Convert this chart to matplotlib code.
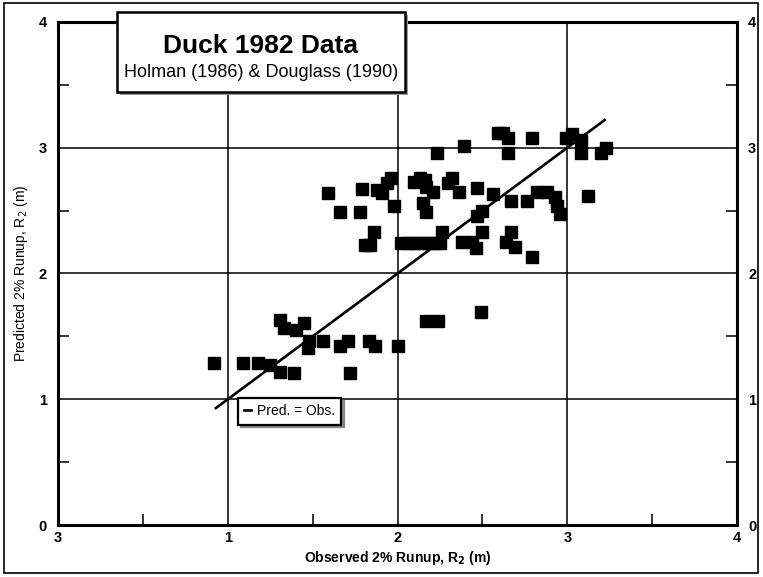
import matplotlib
matplotlib.use("Agg")
import matplotlib.pyplot as plt
import numpy as np
from matplotlib.patches import Rectangle

plt.rcParams['font.family'] = ['Liberation Sans', 'DejaVu Sans']

# observed vs predicted 2% runup (m)
obs = [0.92, 1.09, 1.18, 1.25, 1.31, 1.31, 1.33, 1.40, 1.45, 1.39, 1.47, 1.48,
       1.56, 1.66, 1.71, 1.72, 1.83, 1.87, 2.00, 2.17, 2.24, 2.49,
       1.59, 1.66, 1.78, 1.79, 1.88, 1.91, 1.96, 1.94, 1.98, 1.86, 1.81, 1.84,
       2.02, 2.06, 2.10, 2.14, 2.18, 2.22, 2.25,
       2.10, 2.13, 2.16, 2.17, 2.21, 2.15, 2.17, 2.32, 2.30, 2.36, 2.47, 2.56,
       2.67, 2.76, 2.82, 2.88, 2.93, 2.94, 2.96, 3.12, 2.50, 2.47, 2.26, 2.38,
       2.44, 2.46, 2.50, 2.67, 2.64, 2.69, 2.79,
       2.59, 2.62, 2.65, 2.79, 2.65, 2.39, 2.23, 2.99, 3.03, 3.08, 3.08, 3.20,
       3.23]
pred = [1.29, 1.29, 1.29, 1.27, 1.22, 1.63, 1.57, 1.55, 1.61, 1.21, 1.41, 1.46,
        1.46, 1.42, 1.46, 1.21, 1.46, 1.42, 1.42, 1.62, 1.62, 1.69,
        2.64, 2.49, 2.49, 2.67, 2.66, 2.64, 2.76, 2.72, 2.54, 2.33, 2.23, 2.23,
        2.24, 2.24, 2.24, 2.24, 2.24, 2.24, 2.24,
        2.73, 2.76, 2.74, 2.69, 2.65, 2.56, 2.49, 2.76, 2.72, 2.65, 2.68, 2.63,
        2.58, 2.58, 2.65, 2.65, 2.61, 2.54, 2.47, 2.62, 2.50, 2.46, 2.33, 2.25,
        2.25, 2.20, 2.33, 2.33, 2.25, 2.21, 2.13,
        3.12, 3.12, 3.08, 3.08, 2.96, 3.01, 2.96, 3.08, 3.11, 3.06, 2.96, 2.96,
        3.00]

line_x = [0.93, 3.22]
line_y = [0.93, 3.22]

ticks = [0, 1, 2, 3, 4]
xticklabels = ['3', '1', '2', '3', '4']
yticklabels = ['0', '1', '2', '3', '4']

fig = plt.figure(figsize=(7.63, 5.77), dpi=100)
ax = fig.add_axes([0.076, 0.090, 0.890, 0.872])

ax.grid(True, which='major', color='black', linewidth=1.1)
ax.set_axisbelow(True)
ax.plot(obs, pred, 's', color='black', markersize=8.2, zorder=3)
ax.plot(line_x, line_y, '-', color='black', linewidth=1.9, zorder=4,
        label='Pred. = Obs.')

ax.set_xlim(0, 4)
ax.set_ylim(0, 4)
ax.set_xticks(ticks)
ax.set_xticklabels(xticklabels, fontweight='bold', fontsize=10.5)
ax.set_yticks(ticks)
ax.set_yticklabels(yticklabels, fontweight='bold', fontsize=10.5)
ax.set_xticks([0.5, 1.5, 2.5, 3.5], minor=True)
ax.set_yticks([0.5, 1.5, 2.5, 3.5], minor=True)
ax.tick_params(which='major', length=0)
ax.tick_params(axis='x', which='major', pad=4)
ax.tick_params(axis='y', which='major', pad=8)
ax.tick_params(which='minor', direction='in', length=8, width=1.1,
               right=True, top=False)
ax.tick_params(axis='y', which='both', labelright=True, right=True)
for s in ax.spines.values():
    s.set_linewidth(2.2)

ax.set_xlabel('Observed 2% Runup, R$_\\mathbf{2}$ (m)', fontweight='bold',
              fontsize=10, labelpad=3)
ax.set_ylabel('Predicted 2% Runup, R$_2$ (m)', fontsize=10, labelpad=6)

leg = ax.legend(loc='upper left', bbox_to_anchor=(0.265, 0.2525),
                borderaxespad=0, handlelength=0.5, handletextpad=0.4,
                fancybox=False, shadow={'color': '#888888', 'alpha': 1},
                edgecolor='black', framealpha=1, fontsize=10,
                borderpad=0.45)
leg.get_frame().set_linewidth(1.6)

# title box with shadow
fig.patches.append(Rectangle((0.1573, 0.8350), 0.3775, 0.1386,
                             transform=fig.transFigure, facecolor='#999999',
                             edgecolor='none', zorder=5))
fig.patches.append(Rectangle((0.1533, 0.8406), 0.3775, 0.1386,
                             transform=fig.transFigure, facecolor='white',
                             edgecolor='black', linewidth=1.8, zorder=6))
fig.text(0.342, 0.921, 'Duck 1982 Data', ha='center', va='center',
         fontsize=19, fontweight='bold', zorder=7)
fig.text(0.342, 0.875, 'Holman (1986) & Douglass (1990)', ha='center',
         va='center', fontsize=13, zorder=7)

# outer frame
fig.patches.append(Rectangle((0.005, 0.007), 0.989, 0.987,
                             transform=fig.transFigure, facecolor='none',
                             edgecolor='black', linewidth=1.2, zorder=1))

fig.savefig('out.png', dpi=100)
